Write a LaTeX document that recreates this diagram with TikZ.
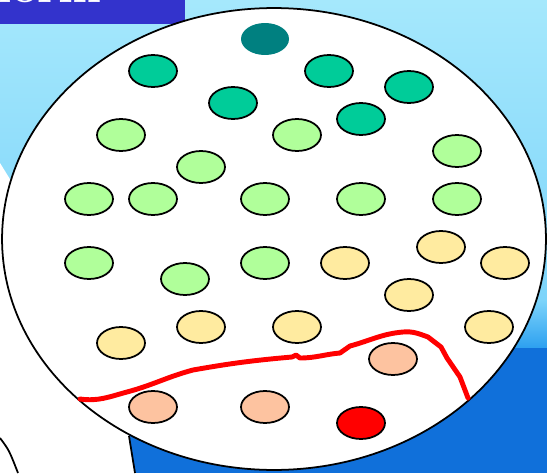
\documentclass[tikz,border=0pt]{standalone}
\usepackage{tikz}
\usetikzlibrary{shapes.geometric,backgrounds}
\definecolor{SkyTop}{RGB}{165,232,252}
\definecolor{SkyLow}{RGB}{125,212,250}
\definecolor{SeaMid}{RGB}{45,160,240}
\definecolor{SeaDeep}{RGB}{16,112,218}
\definecolor{BannerBlue}{RGB}{51,51,204}
\definecolor{CellTeal}{RGB}{0,128,128}
\definecolor{CellDark}{RGB}{0,204,153}
\definecolor{CellLight}{RGB}{176,255,154}
\definecolor{CellYellow}{RGB}{255,235,160}
\definecolor{CellPeach}{RGB}{253,195,160}

\begin{document}
\begin{tikzpicture}[
x=0.02cm, y=-0.02cm,
cell/.style={ellipse, draw, line width=1pt, minimum width=0.96cm, minimum height=0.64cm, inner sep=0pt},
dark/.style={cell, fill=CellDark},
light/.style={cell, fill=CellLight},
yellow/.style={cell, fill=CellYellow},
peach/.style={cell, fill=CellPeach},
hot/.style={cell, fill=red},
track/.style={draw=red, line width=2.8pt, line join=round, line cap=round}
]
\useasboundingbox (0,0) rectangle (547,473);

% background
\shade[top color=SkyTop, bottom color=SkyLow] (0,0) rectangle (547,300);
\shade[top color=SkyLow, bottom color=SeaMid] (0,300) rectangle (547,348);
\fill[SeaDeep] (0,348) rectangle (547,473);

% white cone behind the lens
\fill[white] (0,163) -- (60,260) -- (129,436) -- (135,473) -- (0,473) -- cycle;
\draw[line width=1pt] (129,436) -- (135,473);
\draw[line width=1pt] (0,438) .. controls (9,450) .. (18,473);

% banner
\fill[BannerBlue] (0,0) rectangle (185,24);
\begin{scope}
\clip (0,0) rectangle (185,24);
\node[anchor=base east, text=white, font=\fontsize{26}{28}\selectfont\bfseries, inner sep=0pt] (title) at (102,3) {form};
\end{scope}

% lens
\node[ellipse, draw, fill=white, line width=1pt, minimum width=10.88cm, minimum height=9.24cm, inner sep=0pt] (lens) at (274,239) {};

\node[ellipse, fill=CellTeal, minimum width=0.96cm, minimum height=0.64cm, inner sep=0pt] (top) at (265,39) {};

\node[dark] (d1) at (153,71) {};
\node[dark] (d2) at (233,103) {};
\node[dark] (d3) at (329,71) {};
\node[dark] (d4) at (361,119) {};
\node[dark] (d5) at (409,87) {};

\node[light] (l1) at (121,135) {};
\node[light] (l2) at (201,167) {};
\node[light] (l3) at (297,135) {};
\node[light] (l4) at (457,151) {};
\node[light] (l5) at (89,199) {};
\node[light] (l6) at (153,199) {};
\node[light] (l7) at (265,199) {};
\node[light] (l8) at (361,199) {};
\node[light] (l9) at (457,199) {};
\node[light] (l10) at (89,263) {};
\node[light] (l11) at (185,279) {};
\node[light] (l12) at (265,263) {};

\node[yellow] (y1) at (345,263) {};
\node[yellow] (y2) at (441,247) {};
\node[yellow] (y3) at (505,263) {};
\node[yellow] (y4) at (409,295) {};
\node[yellow] (y5) at (489,327) {};
\node[yellow] (y6) at (297,327) {};
\node[yellow] (y7) at (201,327) {};
\node[yellow] (y8) at (121,343) {};

\node[peach] (p1) at (393,359) {};
\node[peach] (p2) at (153,407) {};
\node[peach] (p3) at (265,407) {};
\node[hot] (r1) at (361,423) {};

% red boundary
\draw[track] (80,399) to[out=-8,in=195] (127,392) to[out=15,in=195] (193,370)
  to[out=10,in=185] (292,357) -- (296,355) -- (300,358) to[out=0,in=185] (340,353)
  -- (350,346) to[out=15,in=185] (403,332) to[out=5,in=160] (428,337)
  -- (441,347) -- (447,358) -- (460,377) -- (468,398);
\end{tikzpicture}
\end{document}
